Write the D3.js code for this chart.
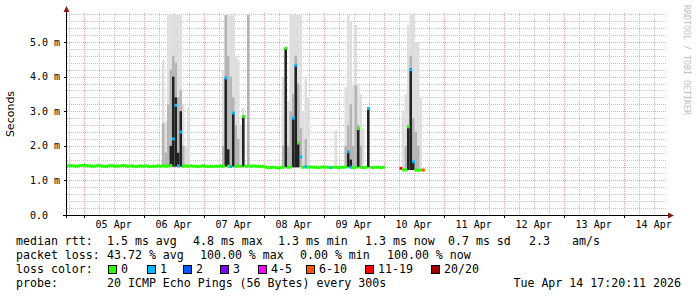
<!DOCTYPE html>
<html>
<head>
<meta charset="utf-8">
<script src="https://cdn.jsdelivr.net/npm/d3@7"></script>
<style>
  body { margin: 0; background: #fff; }
  text { font-family: "DejaVu Sans Mono", monospace; fill: #000; }
</style>
</head>
<body>
<div id="chart"></div>
<script>
// size of the picture and of the plot area
const width = 697;
const height = 297;
const plot = {left: 67, right: 667, top: 13, bottom: 215};

// time range of the graph (10 days, hourly samples)
const startTime = Date.UTC(2026, 3, 4, 17, 20);
const endTime = Date.UTC(2026, 3, 14, 17, 20);
const hour = 3600 * 1000;

// median rtt per hour, in ms (null = no data)
const medianRtt = [
  1.42, 1.43, 1.42, 1.41, 1.42, 1.43, 1.44, 1.43, 1.42, 1.42, 1.41, 1.42, 1.43, 1.42, 1.41, 1.40, 1.42, 1.43, 1.42, 1.41, 1.42, 1.42, 1.43, 1.42,
  1.41, 1.42, 1.41, 1.40, 1.41, 1.42, 1.41, 1.42, 1.41, 1.40, 1.41, 1.41, 1.42, 1.41,
  1.42, 1.41, 1.42, 1.43, 2.20, 3.17, 1.42, 2.40, 1.41, 1.42, 1.41,
  1.42, 1.41, 1.41, 1.40, 1.41, 1.42, 1.41, 1.40, 1.41, 1.40, 1.41, 1.41, 1.42, 1.41,
  3.96, 1.41, 1.40, 2.95, 1.41, 1.42, 1.41, 2.85, 1.41, 1.42, 1.41,
  1.42, 1.41, 1.41, 1.40, 1.41, 1.38, 1.37, 1.37, 1.38, 1.37, 1.36, 1.37,
  1.38, 4.82, 1.38, 1.39, 2.80, 4.33, 2.08, 1.68, 1.38, 1.39, 1.38,
  1.39, 1.38, 1.38, 1.37, 1.38, 1.39, 1.38, 1.38, 1.37, 1.38, 1.38, 1.37, 1.38, 1.38, 1.39,
  1.83, 1.38, 1.37, 1.38, 2.50, 1.38, 1.37, 1.38, 3.08, 1.38,
  1.37, 1.38, 1.38, 1.37, 1.38,
  null, null, null, null, null, null,
  1.35, 1.31, 1.30, 2.55, 4.20, 1.54, 1.30, 1.29, 1.30, 1.30
];

// hours with packet loss (everything else lost 0 of 20)
const lossHours  = [42, 43, 44, 45, 63, 65, 66, 90, 91, 93, 95, 105, 112, 113, 120, 133, 137, 138, 142];
const lossCounts = [ 1,  1,  1,  1,  1,  1,  1,  1,  1,  1,  1,   1,   1,   1,   1,  14,   1,   1,   8];

// smoke: ping spread for the hours with spikes, in ms
const smokeHours = [38, 39, 40, 41, 42, 43, 44, 45, 46, 47, 48,
                    62, 63, 64, 65, 66, 67, 68, 69, 70, 72,
                    86, 87, 88, 89, 90, 91, 92, 93, 94, 95, 96,
                    107, 111, 112, 113, 114, 115, 116, 117, 118, 120,
                    134, 135, 136, 137, 138, 139, 140, 141];
const smokeMin  = [1.40, 1.40, 1.40, 1.40, 1.40, 1.40, 1.40, 1.40, 1.40, 1.40, 1.40,
                   1.40, 1.40, 1.40, 1.40, 1.40, 1.40, 1.40, 1.40, 1.40, 1.40,
                   1.38, 1.38, 1.38, 1.38, 1.38, 1.38, 1.38, 1.38, 1.38, 1.38, 1.38,
                   1.38, 1.38, 1.38, 1.38, 1.38, 1.38, 1.38, 1.38, 1.38, 1.38,
                   1.30, 1.30, 1.30, 1.30, 1.30, 1.30, 1.30, 1.30];
const smokeMax  = [4.50, 2.70, 5.78, 5.78, 5.78, 5.78, 5.78, 5.78, 3.20, 2.00, 3.10,
                   4.20, 5.78, 5.78, 5.78, 5.78, 4.60, 4.50, 2.60, 3.10, 5.78,
                   4.00, 4.85, 3.30, 5.78, 5.78, 5.78, 5.78, 5.78, 3.00, 3.95, 3.40,
                   2.45, 3.70, 5.78, 5.60, 3.75, 5.50, 3.75, 3.50, 2.50, 3.10,
                   3.00, 3.50, 5.50, 5.78, 5.78, 5.00, 5.00, 3.40];
const smokeMid  = [2.65, 1.80, 3.20, 4.20, 4.60, 4.40, 3.40, 3.60, 2.00, 0, 0,
                   2.00, 5.78, 4.60, 4.00, 3.40, 2.60, 2.20, 0, 2.85, 5.78,
                   2.00, 4.85, 2.00, 3.00, 3.50, 4.60, 3.80, 2.50, 0, 2.20, 0,
                   0, 2.00, 2.60, 3.20, 2.00, 3.75, 2.60, 2.00, 0, 3.10,
                   0, 2.00, 2.60, 4.60, 2.80, 2.40, 2.00, 0];
const smokeCore = [0, 0, 0, 2.00, 4.00, 3.40, 1.80, 3.00, 0, 0, 0,
                   0, 3.96, 1.90, 0, 2.95, 0, 0, 0, 2.85, 0,
                   0, 4.82, 0, 0, 2.80, 4.33, 2.10, 0, 0, 0, 0,
                   0, 0, 1.83, 1.60, 0, 0, 2.50, 0, 0, 3.08,
                   0, 0, 2.55, 4.24, 1.54, 0, 0, 0];

// y axis ticks (ms)
const yTicks = [0, 1, 2, 3, 4, 5];

// loss colour legend
const lossLabels = ["0", "1", "2", "3", "4-5", "6-10", "11-19", "20/20"];
const lossColors = ["#26ff00", "#00b8ff", "#0059ff", "#7e00ff", "#ff00ff", "#ff5500", "#ff0000", "#a10000"];

function lossBucket(n) {
  if (n <= 3) return n;
  if (n <= 5) return 4;
  if (n <= 10) return 5;
  if (n <= 19) return 6;
  return 7;
}

const svg = d3.select("#chart")
  .append("svg")
  .attr("width", width)
  .attr("height", height);

const x = d3.scaleUtc()
  .domain([startTime, endTime])
  .range([plot.left, plot.right]);

const y = d3.scaleLinear()
  .domain([0, 5.84])
  .range([plot.bottom, plot.top]);

/*
  Grid
*/
const minorY = d3.range(1, 30).map(k => k * 0.2).filter(v => Math.abs(v - Math.round(v)) > 0.01);
svg.append("g").selectAll("line")
  .data(minorY)
  .enter().append("line")
    .attr("x1", plot.left).attr("x2", plot.right)
    .attr("y1", d => Math.round(y(d)) + 0.5).attr("y2", d => Math.round(y(d)) + 0.5)
    .attr("stroke", "#c4c4c4")
    .attr("stroke-dasharray", "1,1");

const sixHours = d3.utcHour.every(6).range(new Date(startTime), new Date(endTime))
  .filter(d => d.getUTCHours() !== 0);
svg.append("g").selectAll("line")
  .data(sixHours)
  .enter().append("line")
    .attr("x1", d => Math.round(x(d)) + 0.5).attr("x2", d => Math.round(x(d)) + 0.5)
    .attr("y1", plot.top).attr("y2", plot.bottom)
    .attr("stroke", "#c4c4c4")
    .attr("stroke-dasharray", "1,1");

const days = d3.utcDay.range(new Date(startTime), new Date(endTime));
svg.append("g").selectAll("line")
  .data(days)
  .enter().append("line")
    .attr("x1", d => Math.round(x(d)) + 0.5).attr("x2", d => Math.round(x(d)) + 0.5)
    .attr("y1", plot.top).attr("y2", plot.bottom)
    .attr("stroke", "#f0a0a0")
    .attr("stroke-dasharray", "1,1");

svg.append("g").selectAll("line")
  .data(yTicks.slice(1))
  .enter().append("line")
    .attr("x1", plot.left).attr("x2", plot.right)
    .attr("y1", d => Math.round(y(d)) + 0.5).attr("y2", d => Math.round(y(d)) + 0.5)
    .attr("stroke", "#f0a0a0")
    .attr("stroke-dasharray", "1,1");

/*
  Smoke
*/
const smoke = smokeHours.map((h, k) => ({
  h: h, lo: smokeMin[k], max: smokeMax[k], mid: smokeMid[k], core: smokeCore[k]
}));
const colX = h => x(startTime + h * hour);
const colW = h => colX(h + 1) - colX(h);

const layers = [
  {key: "max", color: "#dedede"},
  {key: "mid", color: "#b4b4b4"},
  {key: "core", color: "#222222"}
];
layers.forEach(layer => {
  svg.append("g").selectAll("rect")
    .data(smoke.filter(d => d[layer.key] > d.lo))
    .enter().append("rect")
      .attr("x", d => colX(d.h))
      .attr("width", d => colW(d.h))
      .attr("y", d => y(d[layer.key]))
      .attr("height", d => y(d.lo) - y(d[layer.key]))
      .attr("fill", layer.color);
});

/*
  Median, coloured by loss
*/
const medians = medianRtt
  .map((v, h) => {
    const li = lossHours.indexOf(h);
    return {h: h, v: v, loss: li >= 0 ? lossCounts[li] : 0};
  })
  .filter(d => d.v !== null);

svg.append("g").selectAll("rect")
  .data(medians)
  .enter().append("rect")
    .attr("x", d => colX(d.h))
    .attr("width", d => colW(d.h) + 0.3)
    .attr("y", d => y(d.v) - 1.5)
    .attr("height", 3)
    .attr("fill", d => lossColors[lossBucket(d.loss)]);

/*
  Axes
*/
// x axis line with ticks
svg.append("line")
  .attr("x1", plot.left - 4).attr("x2", plot.right + 2)
  .attr("y1", plot.bottom + 0.5).attr("y2", plot.bottom + 0.5)
  .attr("stroke", "#000");
svg.append("g").selectAll("line")
  .data(days)
  .enter().append("line")
    .attr("x1", d => Math.round(x(d)) + 0.5).attr("x2", d => Math.round(x(d)) + 0.5)
    .attr("y1", plot.bottom).attr("y2", plot.bottom + 3)
    .attr("stroke", "#000");

// y axis line
svg.append("line")
  .attr("x1", plot.left - 0.5).attr("x2", plot.left - 0.5)
  .attr("y1", plot.bottom + 3).attr("y2", plot.top - 3)
  .attr("stroke", "#000");
svg.append("g").selectAll("line")
  .data(yTicks)
  .enter().append("line")
    .attr("x1", plot.left - 3).attr("x2", plot.left)
    .attr("y1", d => Math.round(y(d)) + 0.5).attr("y2", d => Math.round(y(d)) + 0.5)
    .attr("stroke", "#000");

// arrow heads
svg.append("path")
  .attr("d", `M${plot.left - 3.5},${plot.top - 1} L${plot.left - 0.5},${plot.top - 7} L${plot.left + 2.5},${plot.top - 1} Z`)
  .attr("fill", "#8b1a1a");
svg.append("path")
  .attr("d", `M${plot.right + 1},${plot.bottom - 2.5} L${plot.right + 7},${plot.bottom + 0.5} L${plot.right + 1},${plot.bottom + 3.5} Z`)
  .attr("fill", "#8b1a1a");

// y tick labels
svg.append("g").selectAll("text")
  .data(yTicks)
  .enter().append("text")
    .attr("x", 30)
    .attr("y", d => y(d) + 3.5)
    .attr("font-size", "10px")
    .text(d => d === 0 ? "0.0" : d3.format(".1f")(d) + " m");

// x tick labels, centred at noon
svg.append("g").selectAll("text")
  .data(days.filter(d => x(+d + 12 * hour) < plot.right))
  .enter().append("text")
    .attr("x", d => x(+d + 12 * hour))
    .attr("y", 228)
    .attr("text-anchor", "middle")
    .attr("font-size", "10px")
    .text(d => d3.utcFormat("%d %b")(d));

// axis title
svg.append("text")
  .attr("transform", "translate(14,114) rotate(-90)")
  .attr("text-anchor", "middle")
  .style("font-family", "'DejaVu Sans', sans-serif")
  .attr("font-size", "11px")
  .text("Seconds");

// watermark
svg.append("text")
  .attr("transform", "translate(684,5) rotate(90)")
  .attr("font-size", "8.3px")
  .style("fill", "#c0c0c0")
  .text("RRDTOOL / TOBI OETIKER");

/*
  Legend
*/
const legendSize = "11.6px";
const row = [245, 259, 273, 287];

const statItems = [
  [16, "median rtt:"], [107, "1.5 ms avg"], [193, "4.8 ms max"], [278, "1.3 ms min"],
  [365, "1.3 ms now"], [448, "0.7 ms sd"], [529, "2.3"], [572, "am/s"]
];
svg.append("g").selectAll("text")
  .data(statItems)
  .enter().append("text")
    .attr("x", d => d[0]).attr("y", row[0])
    .attr("font-size", legendSize)
    .text(d => d[1]);

const lossItems = [
  [16, "packet loss:"], [107, "43.72 % avg"], [200, "100.00 % max"], [300, "0.00 % min"], [387, "100.00 % now"]
];
svg.append("g").selectAll("text")
  .data(lossItems)
  .enter().append("text")
    .attr("x", d => d[0]).attr("y", row[1])
    .attr("font-size", legendSize)
    .text(d => d[1]);

svg.append("text")
  .attr("x", 16).attr("y", row[2])
  .attr("font-size", legendSize)
  .text("loss color:");

const boxX = [108, 147, 183, 220, 258, 306, 365, 431];
const swatch = svg.append("g").selectAll("g")
  .data(lossLabels)
  .enter().append("g");
swatch.append("rect")
  .attr("x", (d, i) => boxX[i] + 0.5)
  .attr("y", row[2] - 7.5)
  .attr("width", 8).attr("height", 8)
  .attr("fill", (d, i) => lossColors[i])
  .attr("stroke", "#000");
swatch.append("text")
  .attr("x", (d, i) => boxX[i] + 13)
  .attr("y", row[2])
  .attr("font-size", legendSize)
  .text(d => d);

svg.append("text")
  .attr("x", 16).attr("y", row[3])
  .attr("font-size", legendSize)
  .text("probe:");
svg.append("text")
  .attr("x", 107).attr("y", row[3])
  .attr("font-size", legendSize)
  .text("20 ICMP Echo Pings (56 Bytes) every 300s");
svg.append("text")
  .attr("x", 681).attr("y", row[3])
  .attr("text-anchor", "end")
  .attr("font-size", legendSize)
  .text("Tue Apr 14 17:20:11 2026");
</script>
</body>
</html>
